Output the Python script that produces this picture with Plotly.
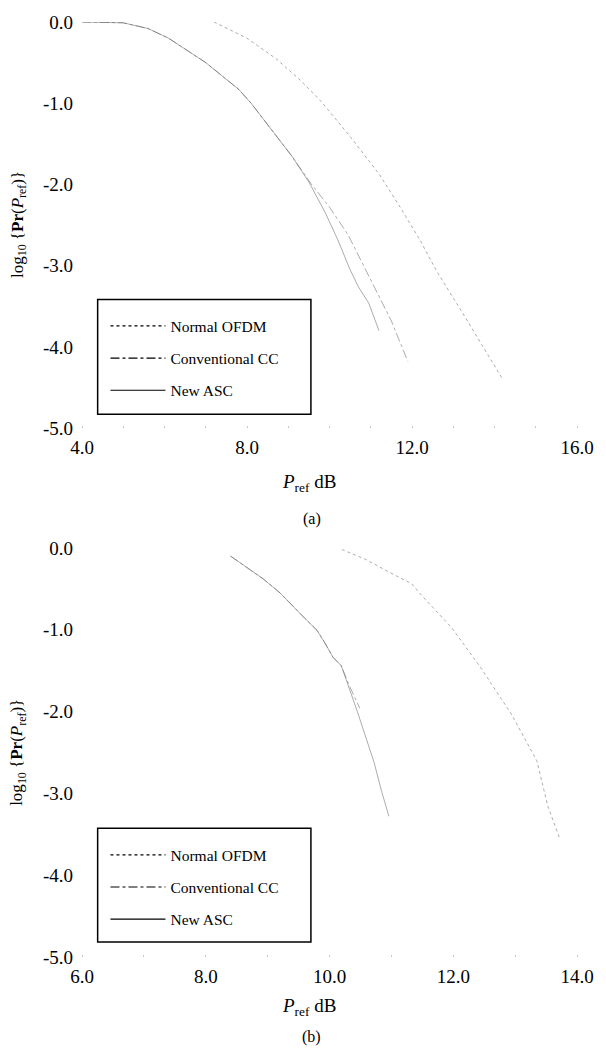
import plotly.graph_objects as go

# ---------------- data ----------------
# Panel (a)
a_ofdm_x = [7.2, 8.0, 8.7, 9.3, 9.8, 10.5, 11.2, 11.7, 12.2, 12.6, 13.2, 13.7, 14.2]
a_ofdm_y = [0.0, -0.2, -0.45, -0.72, -0.98, -1.41, -1.87, -2.27, -2.69, -3.07, -3.56, -3.98, -4.4]

a_cc_x = [4.0, 5.0, 5.6, 6.1, 7.0, 7.8, 8.1, 8.7, 9.1, 9.55, 10.0, 10.45, 11.0, 11.5, 11.9]
a_cc_y = [0.0, -0.01, -0.08, -0.2, -0.5, -0.83, -1.0, -1.39, -1.66, -1.99, -2.28, -2.62, -3.18, -3.68, -4.18]

a_asc_x = [4.0, 5.0, 5.6, 6.1, 7.0, 7.8, 8.1, 8.7, 9.1, 9.5, 9.9, 10.2, 10.5, 10.7, 10.95, 11.2]
a_asc_y = [0.0, -0.01, -0.08, -0.2, -0.5, -0.83, -1.0, -1.39, -1.66, -1.97, -2.35, -2.68, -3.05, -3.26, -3.46, -3.8]

# Panel (b)
b_ofdm_x = [10.2, 10.58, 10.95, 11.33, 11.5, 11.98, 12.45, 12.93, 13.35, 13.53, 13.72]
b_ofdm_y = [-0.02, -0.14, -0.29, -0.44, -0.59, -0.98, -1.47, -2.02, -2.6, -3.16, -3.55]

b_cc_x = [8.4, 8.72, 8.93, 9.2, 9.4, 9.6, 9.8, 9.9, 10.06, 10.19, 10.33, 10.49]
b_cc_y = [-0.1, -0.27, -0.38, -0.55, -0.71, -0.86, -1.01, -1.13, -1.34, -1.44, -1.7, -1.96]

b_asc_x = [8.4, 8.72, 8.93, 9.2, 9.4, 9.6, 9.8, 9.9, 10.06, 10.19, 10.45, 10.72, 10.84, 10.96]
b_asc_y = [-0.1, -0.27, -0.38, -0.55, -0.71, -0.86, -1.01, -1.13, -1.34, -1.44, -2.0, -2.62, -2.97, -3.28]

series_names = ["Normal OFDM", "Conventional CC", "New ASC"]

# tick labels
y_tickvals = [0, -1, -2, -3, -4, -5]
y_ticktext = ["0.0", "-1.0", "-2.0", "-3.0", "-4.0", "-5.0"]
a_x_tickvals = [4, 8, 12, 16]
a_x_ticktext = ["4.0", "8.0", "12.0", "16.0"]
b_x_tickvals = [6, 8, 10, 12, 14]
b_x_ticktext = ["6.0", "8.0", "10.0", "12.0", "14.0"]

# ---------------- figure ----------------
W, H = 606, 1057
ML, MR, MT, MB = 82, 18, 20, 100
PW = W - ML - MR
PH = H - MT - MB

def py(px):  # pixel y -> paper y
    return (H - MB - px) / PH

def pxx(px):  # pixel x -> paper x
    return (px - ML) / PW

FONT = "Liberation Serif"
dashes = ["3px,3px", "dashdot", "solid"]
curve_color = "rgba(90,90,90,0.5)"

fig = go.Figure()

panels = [
    ("x", "y", "legend", [(a_ofdm_x, a_ofdm_y), (a_cc_x, a_cc_y), (a_asc_x, a_asc_y)]),
    ("x2", "y2", "legend2", [(b_ofdm_x, b_ofdm_y), (b_cc_x, b_cc_y), (b_asc_x, b_asc_y)]),
]
for pi, (xa, ya, lg, data) in enumerate(panels):
    for name, dash, (xs, ys) in zip(series_names, dashes, data):
        fig.add_trace(go.Scatter(x=xs, y=ys, mode="lines", xaxis=xa, yaxis=ya,
                                 line=dict(color=curve_color, width=1, dash=dash),
                                 showlegend=False, hoverinfo="skip"))
    for k, (name, dash) in enumerate(zip(series_names, dashes)):
        fig.add_trace(go.Scatter(x=[None], y=[None], mode="lines", xaxis=xa, yaxis=ya,
                                 name=name, legend=lg, legendgroup=f"g{pi}{k}",
                                 line=dict(color="black", width=1.2, dash=dash)))

tickfont = dict(family=FONT, size=19, color="black")
common_x = dict(showgrid=False, zeroline=False, showline=False, ticks="", tickfont=tickfont,
                ticklabelstandoff=6,
                minor=dict(dtick=1, ticks="inside", ticklen=2, tickcolor="#c8c8c8", showgrid=False))
common_y = dict(showgrid=False, zeroline=False, showline=False, ticks="", tickfont=tickfont,
                range=[-5, 0], tickvals=y_tickvals, ticktext=y_ticktext, ticklabelstandoff=8)

yA_bottom = py(427)
yB_top = py(547)

legfont = dict(family=FONT, size=15.5, color="black")
fig.update_layout(
    width=W, height=H,
    margin=dict(l=ML, r=MR, t=MT, b=MB),
    plot_bgcolor="white", paper_bgcolor="white",
    font=dict(family=FONT, color="black"),
    xaxis=dict(domain=[0, 1], anchor="y", range=[4, 16], tickvals=a_x_tickvals,
               ticktext=a_x_ticktext, **common_x),
    yaxis=dict(domain=[yA_bottom, 1], anchor="x", **common_y),
    xaxis2=dict(domain=[0, 1], anchor="y2", range=[6, 14], tickvals=b_x_tickvals,
                ticktext=b_x_ticktext, **common_x),
    yaxis2=dict(domain=[0, yB_top], anchor="x2", **common_y),
    legend=dict(x=pxx(106), y=py(308), xanchor="left", yanchor="top",
                bgcolor="rgba(0,0,0,0)", borderwidth=0, tracegroupgap=9,
                font=legfont, itemwidth=55),
    legend2=dict(x=pxx(106), y=py(838), xanchor="left", yanchor="top",
                 bgcolor="rgba(0,0,0,0)", borderwidth=0, tracegroupgap=9,
                 font=legfont, itemwidth=55),
    showlegend=True,
)

# legend frames
for top, bot in [(298, 413), (828, 942)]:
    fig.add_shape(type="rect", xref="paper", yref="paper",
                  x0=pxx(98), x1=pxx(316), y0=py(bot), y1=py(top),
                  line=dict(color="black", width=1.5), fillcolor="rgba(0,0,0,0)", layer="above")

ytitle = "log<sub>10</sub> {<b>Pr</b>(<i>P</i><sub>ref</sub>)}"
xtitle = "<i>P</i><sub>ref</sub> dB"
for cy, xty, cap, capy in [(223, 482, "(a)", 518), (752, 1007, "(b)", 1037)]:
    fig.add_annotation(text=ytitle, xref="paper", yref="paper", x=pxx(17), y=py(cy),
                       xanchor="center", yanchor="middle", textangle=-90, showarrow=False,
                       font=dict(family=FONT, size=17, color="black"))
    fig.add_annotation(text=xtitle, xref="paper", yref="paper", x=pxx(314), y=py(xty),
                       xanchor="center", yanchor="middle", showarrow=False,
                       font=dict(family=FONT, size=19, color="black"))
    fig.add_annotation(text=cap, xref="paper", yref="paper", x=pxx(317), y=py(capy),
                       xanchor="center", yanchor="middle", showarrow=False,
                       font=dict(family=FONT, size=16, color="black"))

fig.write_html("out.html")
